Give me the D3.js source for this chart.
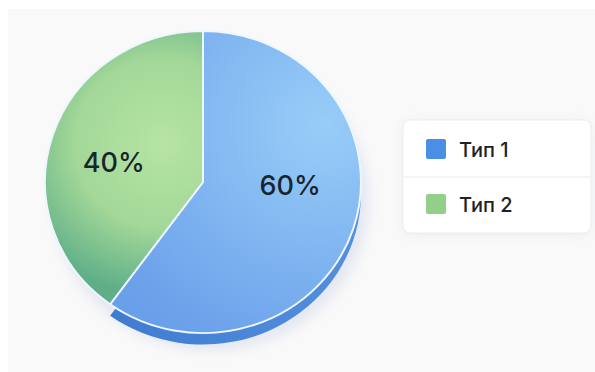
<!DOCTYPE html>
<html>
<head>
<meta charset="utf-8">
<script src="https://cdn.jsdelivr.net/npm/d3@7"></script>
<style>
  html, body { margin: 0; padding: 0; background: #ffffff; }
  svg { display: block; }
</style>
</head>
<body>
<svg id="chart" width="595" height="372"></svg>
<script>
// Share of each type, in percent
const categories = ["Тип 1", "Тип 2"];
const values = [60, 40];
const labels = ["60%", "40%"];

const W = 595, H = 372;
const svg = d3.select("#chart");
const defs = svg.append("defs");

// Soft panel behind the chart
svg.append("rect").attr("x", 8).attr("y", 9).attr("width", W - 8).attr("height", H - 9)
  .attr("fill", "#f9f9f9");

// Gradients for the slices
const gBlue = defs.append("radialGradient").attr("id", "gBlue")
  .attr("gradientUnits", "userSpaceOnUse").attr("cx", 120).attr("cy", -60).attr("r", 260);
gBlue.append("stop").attr("offset", "0%").attr("stop-color", "#98cdf8");
gBlue.append("stop").attr("offset", "100%").attr("stop-color", "#6a9fea");

const gGreen = defs.append("radialGradient").attr("id", "gGreen")
  .attr("gradientUnits", "userSpaceOnUse").attr("cx", -40).attr("cy", -40).attr("r", 160);
gGreen.append("stop").attr("offset", "0%").attr("stop-color", "#b6e4a4");
gGreen.append("stop").attr("offset", "55%").attr("stop-color", "#a3d898");
gGreen.append("stop").attr("offset", "100%").attr("stop-color", "#5fae88");

const gSide = defs.append("linearGradient").attr("id", "gSide")
  .attr("x1", 0).attr("x2", 1).attr("y1", 0).attr("y2", 0);
gSide.append("stop").attr("offset", "0%").attr("stop-color", "#3f7bd0");
gSide.append("stop").attr("offset", "100%").attr("stop-color", "#5590de");

const fills = ["url(#gBlue)", "url(#gGreen)"];
const swatch = ["#4a8fe6", "#92d08a"];

const shadow = defs.append("filter").attr("id", "soft").attr("x", "-20%").attr("y", "-20%")
  .attr("width", "140%").attr("height", "140%");
shadow.append("feGaussianBlur").attr("stdDeviation", 6);

const cx = 203, cy = 182, r = 158, squash = 0.956, depth = 12;

const pie = d3.pie().sort(null).value(d => d)(values);
const arc = d3.arc().innerRadius(0).outerRadius(r);

// Ground shadow
svg.append("ellipse").attr("cx", cx + 8).attr("cy", cy + 18).attr("rx", r).attr("ry", r * squash)
  .attr("fill", "#c9d3e6").attr("opacity", 0.45).attr("filter", "url(#soft)");

const g = svg.append("g").attr("transform", `translate(${cx},${cy}) scale(1,${squash})`);

// Side wall under the first slice
g.append("path").attr("d", arc(pie[0]))
  .attr("transform", `translate(0,${depth})`)
  .attr("fill", "url(#gSide)");

// Top faces
g.selectAll("path.slice").data(pie).join("path")
  .attr("class", "slice")
  .attr("d", arc)
  .attr("fill", (d, i) => fills[i])
  .attr("stroke", "#eef6ff")
  .attr("stroke-width", 2)
  .attr("stroke-linejoin", "round");

// Percentage labels, nudged from the slice centroids
const labelArc = d3.arc().innerRadius(r * 0.58).outerRadius(r * 0.58);
const nudge = [[0, -14], [-2, 17]];
svg.selectAll("text.pct").data(pie).join("text")
  .attr("class", "pct")
  .attr("x", (d, i) => cx + labelArc.centroid(d)[0] + nudge[i][0])
  .attr("y", (d, i) => cy + labelArc.centroid(d)[1] * squash + nudge[i][1])
  .attr("text-anchor", "middle")
  .attr("font-family", "Inter, 'Noto Sans', sans-serif")
  .attr("font-size", 27)
  .attr("font-weight", 500)
  .attr("fill", "#17262d")
  .text((d, i) => labels[i]);

// Legend
const lg = svg.append("g").attr("transform", "translate(403,120)");
lg.append("rect").attr("x", 0).attr("y", 2).attr("width", 188).attr("height", 113).attr("rx", 7)
  .attr("fill", "#e6e8ec").attr("filter", "url(#soft)").attr("opacity", 0.7);
lg.append("rect").attr("width", 188).attr("height", 113).attr("rx", 7)
  .attr("fill", "#ffffff").attr("stroke", "#ebedf0");
lg.append("line").attr("x1", 1).attr("x2", 187).attr("y1", 57).attr("y2", 57)
  .attr("stroke", "#e8eaee");

const items = lg.selectAll("g.item").data(categories).join("g")
  .attr("class", "item")
  .attr("transform", (d, i) => `translate(23,${19 + i * 55})`);
items.append("rect").attr("width", 20).attr("height", 20).attr("rx", 2)
  .attr("fill", (d, i) => swatch[i]);
items.append("text").attr("x", 33).attr("y", 18)
  .attr("font-family", "Inter, 'Noto Sans', sans-serif")
  .attr("font-size", 20).attr("font-weight", 500).attr("fill", "#1e2226")
  .text(d => d);
</script>
</body>
</html>
